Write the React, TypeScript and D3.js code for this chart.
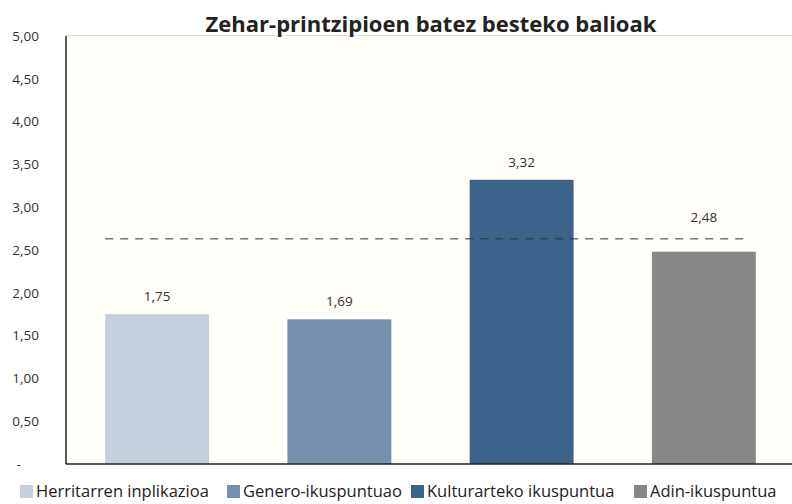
import * as React from 'react';
import * as d3 from 'd3';

const title = 'Zehar-printzipioen batez besteko balioak';
const categories = ['Herritarren inplikazioa', 'Genero-ikuspuntuao', 'Kulturarteko ikuspuntua', 'Adin-ikuspuntua'];
const values = [1.75, 1.69, 3.32, 2.48];
const colors = ['#c6d0dd', '#7590af', '#3c6389', '#878787'];
const referenceValue = 2.63;
const yTicks = [0, 0.5, 1, 1.5, 2, 2.5, 3, 3.5, 4, 4.5, 5];

const fmt = (v: number) => (v === 0 ? '-' : v.toFixed(2).replace('.', ','));

export default function App() {
  const width = 792;
  const height = 504;
  const margin = { top: 36, right: -3, bottom: 40, left: 66 };
  const font = '"Open Sans", "Noto Sans", sans-serif';

  const x = d3.scaleBand().domain(categories).range([margin.left, width - margin.right])
    .paddingInner(0.43).paddingOuter(0.215);
  const y = d3.scaleLinear().domain([0, 5]).range([height - margin.bottom, margin.top]);

  const refY = y(referenceValue);
  const x0 = x(categories[0]) as number;
  const x1 = (x(categories[categories.length - 1]) as number) + x.bandwidth() - 6;

  // legend layout, measured from left
  const legendX = [20, 227, 411, 634];

  // value labels sit above the bar, or above the dashed line when they would cross it
  const labelY = (v: number) => {
    const ly = y(v) - 18;
    return ly < refY + 5 && ly > refY - 14 ? refY - 22 : ly;
  };

  return (
    <svg width={width} height={height} style={{ position: 'absolute', left: 0, top: 0 }}>
      <rect x={0} y={0} width={width} height={height} fill="#ffffff" />
      <rect x={margin.left} y={y(5)} width={width - margin.left} height={y(0) - y(5)} fill="#fefdf7" />
      <line x1={margin.left} x2={width} y1={y(5) - 0.5} y2={y(5) - 0.5} stroke="#dcdcdc" />
      <text x={431} y={32} textAnchor="middle" fontFamily={font} fontWeight="bold" fontSize={22} fill="#222">
        {title}
      </text>
      {yTicks.map(t => (
        <text key={t} x={t === 0 ? 21 : 39} y={y(t)} dy="0.35em" textAnchor="end" fontFamily={font} fontSize={13.5} fill="#333">
          {fmt(t)}
        </text>
      ))}
      {values.map((v, i) => (
        <rect key={i} x={x(categories[i])} y={y(v)} width={x.bandwidth()} height={y(0) - y(v)} fill={colors[i]} />
      ))}
      <line x1={x0} x2={x1} y1={refY} y2={refY} stroke="#333" strokeWidth={1} strokeDasharray="8,7" />
      {values.map((v, i) => (
        <text key={i} x={(x(categories[i]) as number) + x.bandwidth() / 2} y={labelY(v)} dy="0.35em" textAnchor="middle"
          fontFamily={font} fontSize={13.5} fill="#333">
          {fmt(v)}
        </text>
      ))}
      <line x1={margin.left} x2={margin.left} y1={y(5)} y2={y(0)} stroke="#222" strokeWidth={1.5} />
      <line x1={margin.left} x2={width} y1={y(0)} y2={y(0)} stroke="#222" strokeWidth={1.5} />
      {categories.map((c, i) => (
        <g key={c} transform={`translate(${legendX[i]},491)`}>
          <rect x={0} y={-6} width={13} height={13} fill={colors[i]} />
          <text x={16} y={0} dy="0.35em" fontFamily={font} fontSize={16.5} fill="#222">{c}</text>
        </g>
      ))}
    </svg>
  );
}
